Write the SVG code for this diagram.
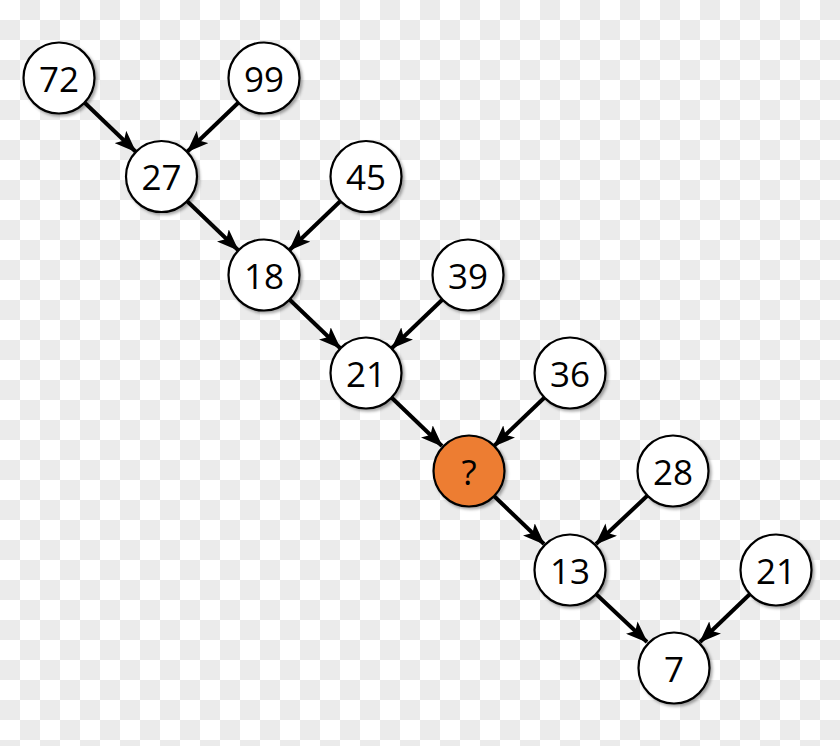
<svg xmlns="http://www.w3.org/2000/svg" width="840" height="746" viewBox="0 0 840 746">
<defs>
<pattern id="checker" x="0" y="0" width="40" height="40" patternUnits="userSpaceOnUse">
<rect width="40" height="40" fill="#ffffff"/>
<rect x="20" y="0" width="20" height="20" fill="#ebebeb"/>
<rect x="0" y="20" width="20" height="20" fill="#ebebeb"/>
</pattern>
<filter id="shadow" x="-30%" y="-30%" width="160%" height="160%">
<feDropShadow dx="2" dy="2" stdDeviation="1.8" flood-color="#000" flood-opacity="0.35"/>
</filter>
<marker id="arrow" viewBox="0 0 22 17" refX="21" refY="8.5" markerWidth="22" markerHeight="17" markerUnits="userSpaceOnUse" orient="auto">
<path d="M0,0 L22,8.5 L0,17 L5,8.5 Z" fill="#000"/>
</marker>
</defs>
<style>
.node circle { fill: #ffffff; stroke: #000; stroke-width: 2.2; filter: url(#shadow); }
.node.hl circle { fill: #ED7D31; }
.node text { font-family: "Open Sans", "Noto Sans", sans-serif; font-size: 35px; fill: #000; text-anchor: middle; dominant-baseline: central; }
.edge { stroke: #000; stroke-width: 4; fill: none; marker-end: url(#arrow); }
</style>
<rect width="840" height="746" fill="url(#checker)"/>
<g id="connectors">
<line class="edge" x1="85" y1="103" x2="135.5" y2="151.5"/>
<line class="edge" x1="238" y1="103" x2="187.5" y2="151.5"/>
<line class="edge" x1="187.5" y1="201.5" x2="238" y2="250"/>
<line class="edge" x1="340" y1="201.5" x2="289.5" y2="250"/>
<line class="edge" x1="290" y1="300" x2="340" y2="348"/>
<line class="edge" x1="442" y1="300" x2="392" y2="348"/>
<line class="edge" x1="392" y1="398" x2="442" y2="446"/>
<line class="edge" x1="544" y1="398" x2="494" y2="446"/>
<line class="edge" x1="494" y1="496" x2="544" y2="544"/>
<line class="edge" x1="647" y1="496" x2="596" y2="544"/>
<line class="edge" x1="596" y1="594" x2="647" y2="642"/>
<line class="edge" x1="750" y1="594" x2="700" y2="642"/>
</g>
<g id="n72" class="node"><circle cx="59" cy="78" r="35.5"/><text x="59" y="78">72</text></g>
<g id="n99" class="node"><circle cx="264" cy="78" r="35.5"/><text x="264" y="78">99</text></g>
<g id="n27" class="node"><circle cx="161.5" cy="176.5" r="35.5"/><text x="161.5" y="176.5">27</text></g>
<g id="n45" class="node"><circle cx="366" cy="176.5" r="35.5"/><text x="366" y="176.5">45</text></g>
<g id="n18" class="node"><circle cx="264" cy="275" r="35.5"/><text x="264" y="275">18</text></g>
<g id="n39" class="node"><circle cx="468" cy="275" r="35.5"/><text x="468" y="275">39</text></g>
<g id="n21a" class="node"><circle cx="366" cy="373" r="35.5"/><text x="366" y="373">21</text></g>
<g id="n36" class="node"><circle cx="570" cy="373" r="35.5"/><text x="570" y="373">36</text></g>
<g id="nq" class="node hl"><circle cx="469" cy="471" r="35.5"/><text x="469" y="471">?</text></g>
<g id="n28" class="node"><circle cx="673" cy="471" r="35.5"/><text x="673" y="471">28</text></g>
<g id="n13" class="node"><circle cx="570" cy="570" r="35.5"/><text x="570" y="570">13</text></g>
<g id="n21b" class="node"><circle cx="776" cy="570" r="35.5"/><text x="776" y="570">21</text></g>
<g id="n7" class="node"><circle cx="674" cy="668" r="35.5"/><text x="674" y="668">7</text></g>
</svg>
